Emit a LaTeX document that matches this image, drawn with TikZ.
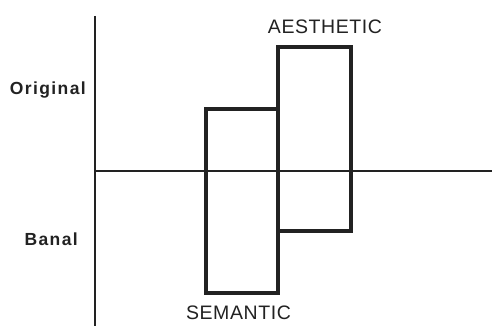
\documentclass[tikz,border=0pt]{standalone}
\usepackage{fontspec}
\setmainfont{Liberation Sans}
\definecolor{ink}{HTML}{222222}
\begin{document}
\begin{tikzpicture}[x=1pt,y=-1pt,
  axis/.style={draw=ink,line width=2pt},
  bar/.style={draw=ink,line width=4pt,line join=miter},
  side/.style={text=ink,font=\fontsize{17.5}{18}\selectfont\bfseries\addfontfeature{LetterSpace=8},inner sep=0pt},
  captext/.style={text=ink,font=\fontsize{19.5}{20}\selectfont\addfontfeature{LetterSpace=3},inner sep=0pt}]
\useasboundingbox[fill=white] (0,0) rectangle (492,326);
\coordinate (vtop) at (95,16);
\coordinate (vbot) at (95,326);
\coordinate (hl) at (95,170.5);
\coordinate (hr) at (492,170.5);
\draw[axis] (vtop) -- (vbot);
\draw[axis] (hl) -- (hr);
\draw[bar] (205.5,109) rectangle (277.5,292.5);
\draw[bar] (277.5,47) rectangle (350.5,230.5);
\node[captext] (aes) at (325,26.5) {AESTHETIC};
\node[captext] (sem) at (238.5,313) {SEMANTIC};
\node[side,anchor=east] (orig) at (86,90.5) {Original};
\node[side,anchor=east] (banal) at (78,239) {Banal};
\end{tikzpicture}
\end{document}
